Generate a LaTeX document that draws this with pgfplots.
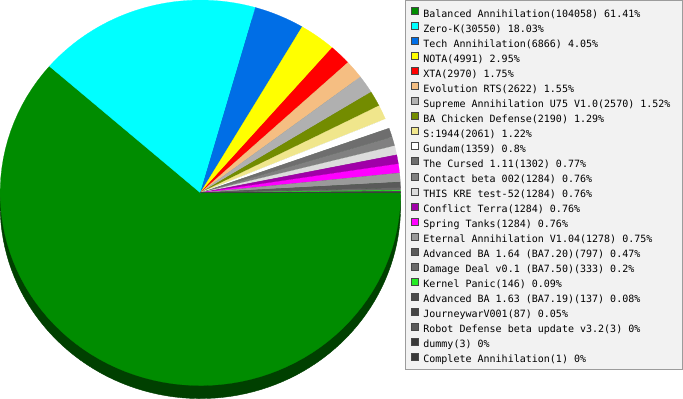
\documentclass[border=0pt]{standalone}
\usepackage{pgfplots}
\pgfplotsset{compat=1.18}
\usepackage{fontspec}
\setmonofont{DejaVu Sans Mono}
\definecolor{cBA}{HTML}{008C00}
\definecolor{cBAdark}{HTML}{004000}
\definecolor{cZK}{HTML}{00FFFF}
\definecolor{cTA}{HTML}{006EE6}
\definecolor{cNOTA}{HTML}{FFFF00}
\definecolor{cXTA}{HTML}{FF0000}
\definecolor{cEvo}{HTML}{F5BE82}
\definecolor{cSA}{HTML}{B0B0B0}
\definecolor{cChick}{HTML}{738C00}
\definecolor{cS44}{HTML}{F0E68C}
\definecolor{cGundam}{HTML}{FFFFFF}
\definecolor{cCursed}{HTML}{6E6E6E}
\definecolor{cContact}{HTML}{808080}
\definecolor{cKRE}{HTML}{DCDCDC}
\definecolor{cCT}{HTML}{A000A8}
\definecolor{cST}{HTML}{FF00FF}
\definecolor{cEA}{HTML}{9A9A9A}
\definecolor{cABAa}{HTML}{5A5A5A}
\definecolor{cDD}{HTML}{6A6A6A}
\definecolor{cKP}{HTML}{22EE22}
\definecolor{cABAb}{HTML}{4A4A4A}
\definecolor{cJW}{HTML}{444444}
\definecolor{cRD}{HTML}{5A5A5A}
\definecolor{cDummy}{HTML}{383838}
\definecolor{cCA}{HTML}{383838}
\definecolor{boxfill}{HTML}{F2F2F2}
\definecolor{boxline}{HTML}{9C9C9C}

\newcommand\total{169460}
\xdef\cum{0}
\newcommand\slice[3]{%
  \xdef\sa{\fpeval{-360*\cum/\total}}%
  \xdef\cum{\fpeval{\cum+#1}}%
  \xdef\ea{\fpeval{-360*\cum/\total}}%
  \edef\doplot{\noexpand\addplot[fill=#2, draw=#2, line width=0.2bp, domain=\ea:\sa, samples=80, variable=\noexpand\t]}%
  \doplot ({200+200*cos(\t)},{-192.5+192.5*sin(\t)}) -- (200,-192.5) -- cycle;
  \addlegendentry{#3}%
}

\begin{document}
\begin{tikzpicture}
\begin{axis}[
  x=1bp, y=1bp, scale only axis,
  xmin=0, xmax=683, ymin=-400, ymax=0,
  hide axis, clip=false,
  legend image code/.code={%
    \path[#1, draw=none] (0bp,0.3bp) rectangle (8bp,8.3bp);
    \draw[draw=black!72, fill=none, line width=1bp] (0.5bp,0.8bp) rectangle (7.5bp,7.8bp);},
  legend style={at={(axis cs:410,-7.0)}, anchor=north west, draw=none, fill=none,
    inner sep=0pt, row sep=0pt, column sep=4.5bp,
    font=\ttfamily\fontsize{10bp}{15bp}\selectfont,
    nodes={inner sep=0pt, text height=8.1bp, text depth=5.3bp}},
  legend cell align=left,
]
\fill[boxfill, draw=boxline, line width=1bp] (404.5,-0.5) rectangle (681.5,-368.5);
\addplot[fill=cBAdark, draw=cBAdark, forget plot, domain=0:360, samples=160, variable=\t]
  ({200+200*cos(\t)},{-205.5+192.5*sin(\t)}) -- cycle;
\slice{104058}{cBA}{Balanced Annihilation(104058) 61.41\%}
\slice{30550}{cZK}{Zero-K(30550) 18.03\%}
\slice{6866}{cTA}{Tech Annihilation(6866) 4.05\%}
\slice{4991}{cNOTA}{NOTA(4991) 2.95\%}
\slice{2970}{cXTA}{XTA(2970) 1.75\%}
\slice{2622}{cEvo}{Evolution RTS(2622) 1.55\%}
\slice{2570}{cSA}{Supreme Annihilation U75 V1.0(2570) 1.52\%}
\slice{2190}{cChick}{BA Chicken Defense(2190) 1.29\%}
\slice{2061}{cS44}{S:1944(2061) 1.22\%}
\slice{1359}{cGundam}{Gundam(1359) 0.8\%}
\slice{1302}{cCursed}{The Cursed 1.11(1302) 0.77\%}
\slice{1284}{cContact}{Contact beta 002(1284) 0.76\%}
\slice{1284}{cKRE}{THIS KRE test-52(1284) 0.76\%}
\slice{1284}{cCT}{Conflict Terra(1284) 0.76\%}
\slice{1284}{cST}{Spring Tanks(1284) 0.76\%}
\slice{1278}{cEA}{Eternal Annihilation V1.04(1278) 0.75\%}
\slice{797}{cABAa}{Advanced BA 1.64 (BA7.20)(797) 0.47\%}
\slice{333}{cDD}{Damage Deal v0.1 (BA7.50)(333) 0.2\%}
\slice{146}{cKP}{Kernel Panic(146) 0.09\%}
\slice{137}{cABAb}{Advanced BA 1.63 (BA7.19)(137) 0.08\%}
\slice{87}{cJW}{JourneywarV001(87) 0.05\%}
\slice{3}{cRD}{Robot Defense beta update v3.2(3) 0\%}
\slice{3}{cDummy}{dummy(3) 0\%}
\slice{1}{cCA}{Complete Annihilation(1) 0\%}
\end{axis}
\end{tikzpicture}
\end{document}
